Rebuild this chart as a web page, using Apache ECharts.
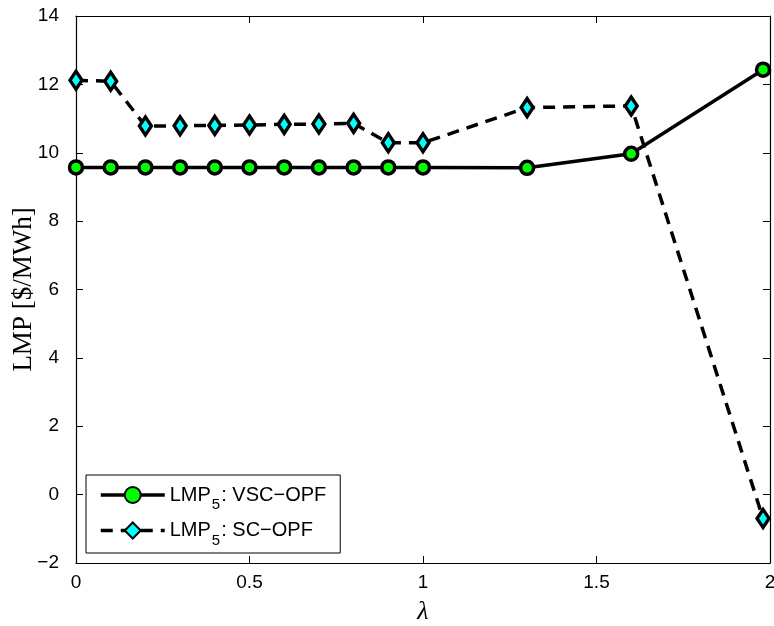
<!DOCTYPE html>
<html>
<head>
<meta charset="utf-8">
<script src="https://cdn.jsdelivr.net/npm/echarts@6/dist/echarts.min.js"></script>
<style>
html,body{margin:0;padding:0;background:#fff;}
#chart{width:774px;height:626px;}
</style>
</head>
<body>
<div id="chart"></div>
<script>
var lambdaValues = [0, 0.1, 0.2, 0.3, 0.4, 0.5, 0.6, 0.7, 0.8, 0.9, 1.0, 1.3, 1.6, 1.98];
var vscOpf = [9.57, 9.57, 9.57, 9.57, 9.57, 9.57, 9.57, 9.57, 9.57, 9.57, 9.57, 9.56, 9.97, 12.43];
var scOpf = [12.12, 12.09, 10.78, 10.79, 10.80, 10.81, 10.83, 10.84, 10.86, 10.29, 10.29, 11.32, 11.37, -0.70];
var seriesNames = ['VSC\u2212OPF', 'SC\u2212OPF'];
var xTicks = [0, 0.5, 1, 1.5, 2];
var yTicks = [-2, 0, 2, 4, 6, 8, 10, 12, 14];

function pairs(xs, ys) { return xs.map(function (x, i) { return [x, ys[i]]; }); }

var chart = echarts.init(document.getElementById('chart'), null, {renderer: 'canvas'});
var sans = 'Liberation Sans, Arial, Helvetica, sans-serif';
var serif = 'Liberation Serif, Times New Roman, serif';

var axisCommon = {
  axisLine: {show: true, onZero: false, lineStyle: {color: '#000', width: 1.2}},
  axisTick: {show: true, inside: true, length: 7, lineStyle: {color: '#000', width: 1}},
  splitLine: {show: false}
};

function xAxis(pos, showLabels) {
  return Object.assign({}, axisCommon, {
    type: 'value', position: pos,
    min: xTicks[0], max: xTicks[xTicks.length - 1], interval: 0.5,
    axisLabel: {show: showLabels, color: '#000', fontFamily: sans, fontSize: 19, margin: 10,
      hideOverlap: false, showMinLabel: true, showMaxLabel: true,
      formatter: function (v) { return String(v); }},
    name: showLabels ? '\u03bb' : '', nameLocation: 'middle', nameGap: 36, nameMoveOverlap: false,
    nameTextStyle: {fontFamily: serif, fontStyle: 'italic', fontSize: 26, color: '#000'}
  });
}
function yAxis(pos, showLabels) {
  return Object.assign({}, axisCommon, {
    type: 'value', position: pos,
    min: yTicks[0], max: yTicks[yTicks.length - 1], interval: 2,
    axisLabel: {show: showLabels, color: '#000', fontFamily: sans, fontSize: 19, margin: 17,
      showMinLabel: true, showMaxLabel: true,
      formatter: function (v) { return v < 0 ? '\u2212' + Math.abs(v) : String(v); }},
    name: showLabels ? 'LMP [$/MWh]' : '', nameLocation: 'middle', nameGap: 39, nameRotate: 90,
    nameMoveOverlap: false,
    nameTextStyle: {fontFamily: serif, fontSize: 27, color: '#000'}
  });
}

chart.setOption({
  animation: false,
  backgroundColor: '#fff',
  grid: {left: 76, top: 16, right: 4, bottom: 63, containLabel: false, outerBoundsMode: 'none'},
  xAxis: [xAxis('bottom', true), xAxis('top', false)],
  yAxis: [yAxis('left', true), yAxis('right', false)],
  legend: {
    orient: 'vertical', left: 86, top: 475,
    selectedMode: false,
    backgroundColor: '#fff', borderColor: '#000', borderWidth: 1,
    padding: [10, 14, 5, 13],
    itemWidth: 64, itemHeight: 20, itemGap: 8,
    lineStyle: {width: 3.5},
    data: seriesNames,
    formatter: function (name) { return '{m|LMP}{s|5}{m|: ' + name + '}'; },
    textStyle: {
      color: '#000', fontFamily: sans, fontSize: 20,
      rich: {
        m: {fontFamily: sans, fontSize: 20, color: '#000', verticalAlign: 'middle'},
        s: {fontFamily: sans, fontSize: 15, color: '#000', padding: [20, 1, 0, 1], verticalAlign: 'top'}
      }
    }
  },
  series: [
    {
      name: seriesNames[0], type: 'line', xAxisIndex: 0, yAxisIndex: 0,
      data: pairs(lambdaValues, vscOpf),
      symbol: 'circle', symbolSize: 13, clip: false, z: 3,
      lineStyle: {color: '#000', width: 3.5, type: 'solid'},
      itemStyle: {color: '#00ff00', borderColor: '#000', borderWidth: 3.5}
    },
    {
      name: seriesNames[1], type: 'line', xAxisIndex: 0, yAxisIndex: 0,
      data: pairs(lambdaValues, scOpf),
      symbol: 'diamond', symbolSize: [12, 18], clip: false, z: 2,
      lineStyle: {color: '#000', width: 3.5, type: [12, 8]},
      itemStyle: {color: '#00ffff', borderColor: '#000', borderWidth: 3.5}
    }
  ]
});
</script>
</body>
</html>
